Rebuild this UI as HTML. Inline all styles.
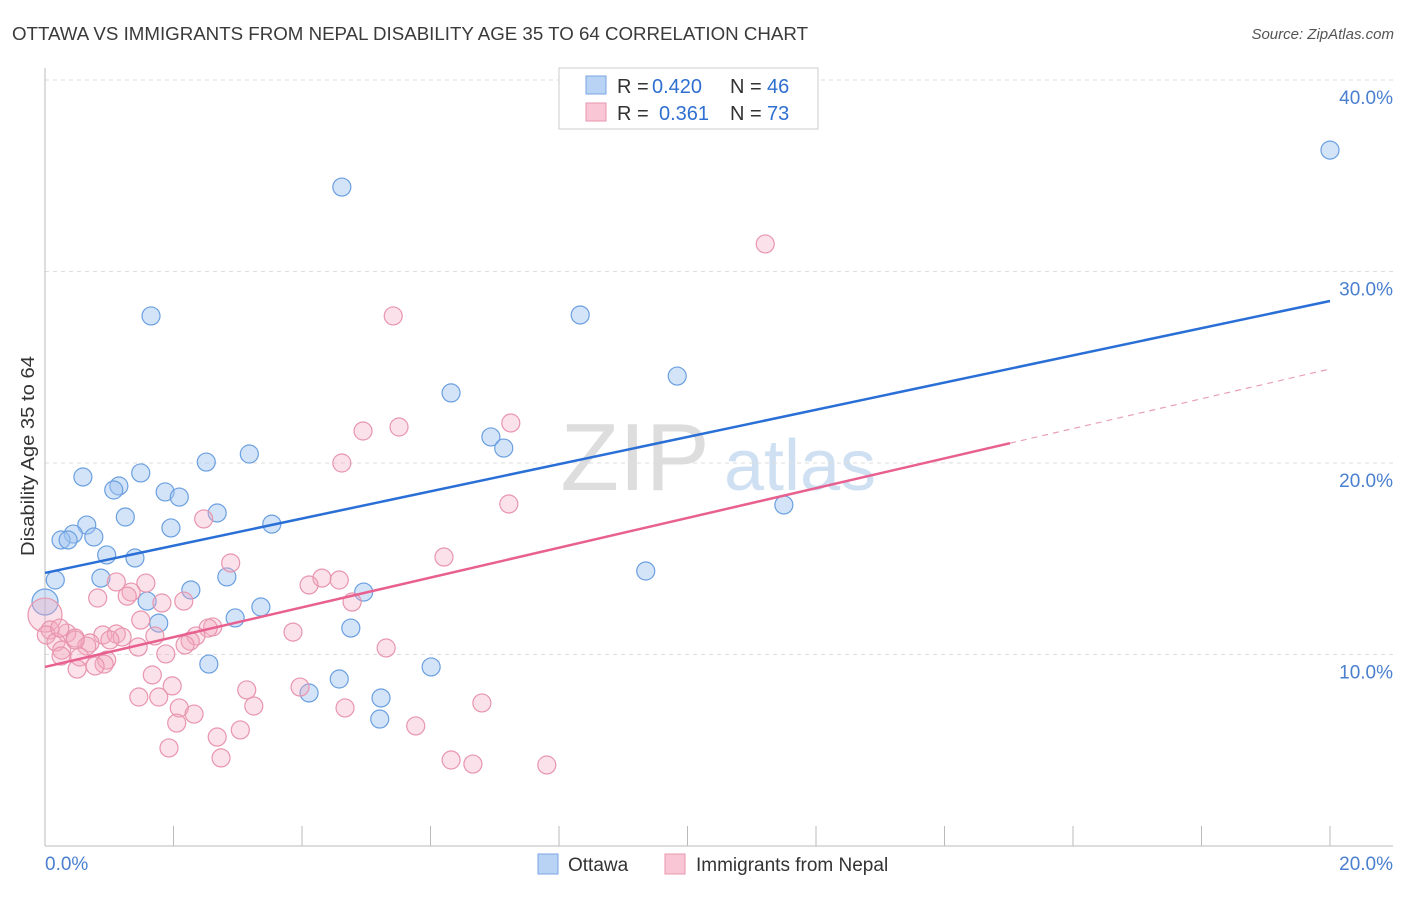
<!DOCTYPE html>
<html><head><meta charset="utf-8"><style>
body{margin:0;background:#fff;font-family:"Liberation Sans",sans-serif}
svg text{font-family:"Liberation Sans",sans-serif}
</style></head><body>
<svg id="chart" width="1406" height="892" xmlns="http://www.w3.org/2000/svg">
<text x="12" y="40" font-size="18" fill="#3a3a3a" textLength="796" lengthAdjust="spacingAndGlyphs">OTTAWA VS IMMIGRANTS FROM NEPAL DISABILITY AGE 35 TO 64 CORRELATION CHART</text>
<text x="1394" y="39" font-size="15" fill="#555" text-anchor="end" font-style="italic">Source: ZipAtlas.com</text>
<text transform="translate(34,456) rotate(-90)" font-size="18" fill="#333" text-anchor="middle" textLength="200" lengthAdjust="spacingAndGlyphs">Disability Age 35 to 64</text>
<g><text x="635" y="490" font-size="96" fill="#ddd" text-anchor="middle" font-family="Liberation Serif,serif">ZIP</text><text x="800" y="490" font-size="72" fill="#cfe0f3" text-anchor="middle">atlas</text></g>
<g id="grid"></g><g id="axes"></g><g id="pts"></g><g id="lines"></g>
<g>
<rect x="559" y="68" width="259" height="61" fill="#fff" stroke="#ccc"/>
<rect x="586" y="76" width="20" height="18" fill="#b9d3f5" stroke="#7aa6e0"/>
<text x="617" y="93" font-size="20" fill="#333">R =</text>
<text x="652" y="93" font-size="20" fill="#2f6fd0">0.420</text>
<text x="730" y="93" font-size="20" fill="#333">N =</text>
<text x="767" y="93" font-size="20" fill="#2f6fd0">46</text>
<rect x="586" y="103" width="20" height="18" fill="#f8c6d4" stroke="#e895ae"/>
<text x="617" y="120" font-size="20" fill="#333">R =</text>
<text x="659" y="120" font-size="20" fill="#2f6fd0">0.361</text>
<text x="730" y="120" font-size="20" fill="#333">N =</text>
<text x="767" y="120" font-size="20" fill="#2f6fd0">73</text>
</g>
<g>
<rect x="538" y="854" width="20" height="20" fill="#b9d3f5" stroke="#7aa6e0"/>
<text x="568" y="871" font-size="19" fill="#333">Ottawa</text>
<rect x="665" y="854" width="20" height="20" fill="#f8c6d4" stroke="#e895ae"/>
<text x="696" y="871" font-size="19" fill="#333">Immigrants from Nepal</text>
</g>
</svg>
<script>
const blueX=[4.62,20.0,1.65,8.33,9.84,6.32,6.94,7.14,3.18,2.51,1.49,0.59,1.15,1.07,1.87,2.09,2.68,1.25,3.53,1.96,0.65,0.44,0.25,0.36,0.76,0.96,1.40,11.50,9.35,0.16,0.87,2.83,2.27,4.96,1.59,0,3.36,2.96,1.77,4.76,2.55,6.01,4.58,4.11,5.23,5.21];
const blueY=[34.41,36.34,27.68,27.73,24.54,23.66,21.36,20.78,20.47,20.05,19.48,19.27,18.80,18.59,18.49,18.22,17.39,17.18,16.81,16.61,16.76,16.29,15.98,15.98,16.14,15.20,15.04,17.81,14.36,13.89,13.99,14.05,13.37,13.26,12.79,12.74,12.48,11.91,11.64,11.38,9.50,9.35,8.72,7.99,7.73,6.63];
const pinkX=[11.21,5.42,7.25,5.51,4.95,4.62,7.22,2.47,6.21,2.89,1.11,4.31,4.58,4.11,1.57,0.82,1.34,1.28,2.16,4.78,1.82,0,1.49,2.61,2.54,3.86,0.08,0.02,0.34,0.47,0.90,1.11,1.20,1.71,2.35,2.26,0.17,0.70,0.65,1.45,2.18,5.31,0.26,1.88,0.25,0.54,0.96,0.92,0.78,0.50,1.67,1.98,3.14,3.97,6.80,1.46,1.77,3.25,2.09,4.67,2.32,2.05,5.77,3.04,2.68,1.93,2.74,6.32,6.66,7.81,0.47,1.01,0.23];
const pinkY=[31.44,27.68,22.09,21.88,21.67,20.00,17.86,17.08,15.09,14.78,13.79,13.99,13.89,13.63,13.73,12.95,13.26,13.05,12.79,12.74,12.69,12.06,11.80,11.44,11.38,11.17,11.28,11.02,11.12,10.86,11.02,11.07,10.91,10.97,10.97,10.70,10.65,10.60,10.44,10.39,10.50,10.34,10.23,10.03,9.92,9.87,9.71,9.50,9.40,9.24,8.93,8.36,8.15,8.30,7.47,7.78,7.78,7.31,7.21,7.21,6.89,6.42,6.27,6.06,5.69,5.12,4.60,4.49,4.28,4.23,10.76,10.76,11.38];
const blueTrend=[14.26,28.46];
const pinkTrend=[9.35,24.91];
const pinkSolidEnd=15.02;
const yTicks=[10,20,30,40];
const yTickLabels=["10.0%","20.0%","30.0%","40.0%"];
const xTicks=[0,2,4,6,8,10,12,14,16,18,20];
const NS="http://www.w3.org/2000/svg";
const sx=v=>45+v*64.25, sy=v=>846-v*19.15;
function mk(tag,attrs,parent){const e=document.createElementNS(NS,tag);for(const k in attrs)e.setAttribute(k,attrs[k]);document.getElementById(parent).appendChild(e);return e;}
yTicks.forEach((t,i)=>{
 const g=mk('line',{x1:45,x2:1393,y1:sy(t),y2:sy(t),stroke:'#ddd','stroke-dasharray':'4,4'},'grid');
 
 
 const l=mk('text',{x:1393,y:sy(t)+24,'font-size':19,fill:'#4a7fd0','text-anchor':'end'},'grid');
 l.textContent=yTickLabels[i];
 
 
});
const ax=mk('line',{x1:45,x2:45,y1:68,y2:846,stroke:'#bbb'},'axes');


const bx=mk('line',{x1:45,x2:1393,y1:846,y2:846,stroke:'#bbb'},'axes');


xTicks.forEach(t=>{const k=mk('line',{x1:sx(t),x2:sx(t),y1:826,y2:846,stroke:'#bbb'},'axes');
 
 });
const x0=mk('text',{x:45,y:870,'font-size':19,fill:'#4a7fd0'},'axes');x0.textContent='0.0%';


const x1=mk('text',{x:1393,y:870,'font-size':19,fill:'#4a7fd0','text-anchor':'end'},'axes');x1.textContent='20.0%';


function pts(X,Y,fill,stroke,name,bigR){X.forEach((x,i)=>{const r=(x===0)?bigR:9;
 const c=mk('circle',{cx:sx(x),cy:sy(Y[i]),r:r,fill:fill,stroke:stroke,'stroke-width':1.2},'pts');
 
 });}
pts(blueX,blueY,'rgba(160,196,240,0.45)','#6a9fe0','ottawa-point',13);
pts(pinkX,pinkY,'rgba(244,170,192,0.35)','#e895ae','nepal-point',17);
const bl=mk('line',{x1:sx(0),y1:sy(blueTrend[0]),x2:sx(20),y2:sy(blueTrend[1]),stroke:'#2a6fd6','stroke-width':2.5},'lines');


const pm=pinkTrend[0]+(pinkTrend[1]-pinkTrend[0])*pinkSolidEnd/20;
const pl=mk('line',{x1:sx(0),y1:sy(pinkTrend[0]),x2:sx(pinkSolidEnd),y2:sy(pm),stroke:'#e8608f','stroke-width':2.5},'lines');


const pd=mk('line',{x1:sx(pinkSolidEnd),y1:sy(pm),x2:sx(20),y2:sy(pinkTrend[1]),stroke:'#e8a0b8','stroke-width':1.2,'stroke-dasharray':'6,5'},'lines');


</script>
</body></html>
